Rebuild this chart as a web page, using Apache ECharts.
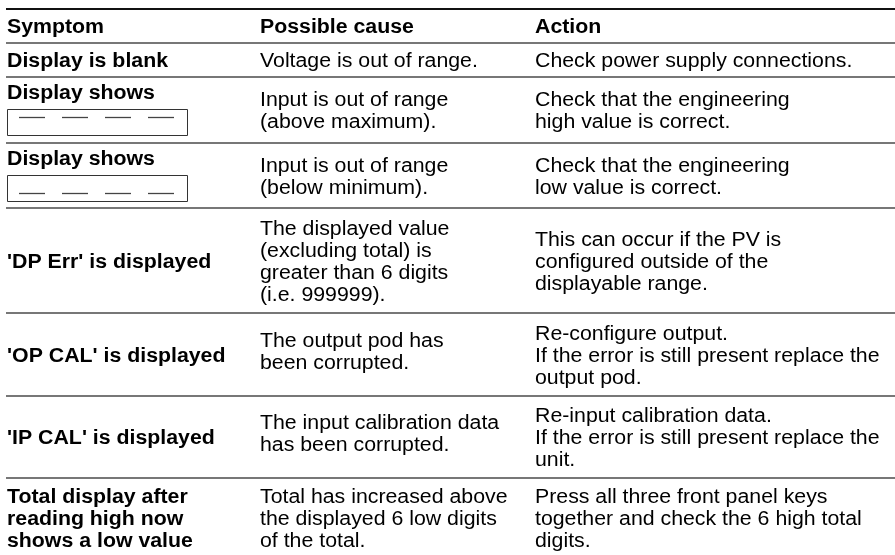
<!DOCTYPE html>
<html><head><meta charset="utf-8">
<script src="https://cdn.jsdelivr.net/npm/echarts@6/dist/echarts.min.js"></script>
<style>html,body{margin:0;padding:0;background:#fff}#c{width:895px;height:555px}</style>
</head><body><div id="c"></div>
<script>
// ---- data ----
const headers = ['Symptom', 'Possible cause', 'Action'];
const symptoms = [
  'Display is blank',
  'Display shows',
  'Display shows',
  "'DP Err' is displayed",
  "'OP CAL' is displayed",
  "'IP CAL' is displayed",
  'Total display after\nreading high now\nshows a low value'
];
const displayIndicators = ['', 'over', 'under', '', '', '', ''];
const causes = [
  'Voltage is out of range.',
  'Input is out of range\n(above maximum).',
  'Input is out of range\n(below minimum).',
  'The displayed value\n(excluding total) is\ngreater than 6 digits\n(i.e. 999999).',
  'The output pod has\nbeen corrupted.',
  'The input calibration data\nhas been corrupted.',
  'Total has increased above\nthe displayed 6 low digits\nof the total.'
];
const actions = [
  'Check power supply connections.',
  'Check that the engineering\nhigh value is correct.',
  'Check that the engineering\nlow value is correct.',
  'This can occur if the PV is\nconfigured outside of the\ndisplayable range.',
  'Re-configure output.\nIf the error is still present replace the\noutput pod.',
  'Re-input calibration data.\nIf the error is still present replace the\nunit.',
  'Press all three front panel keys\ntogether and check the 6 high total\ndigits.'
];

// ---- layout ----
const W = 895, H = 555;
const colX = [7, 260, 535];
const rowEdges = [9, 43, 77, 143, 208, 313, 396, 478, 558];
const causeShift = [0, 0, 0, 0, 0, -4, -4, 0, 0]; // per table row (0 = header)
const LINE_H = 22;
const TEXT_DY = 1.5;
const FONT_SIZE = 20;
const SX = 1.065;
const FAMILY = 'Liberation Sans';

// cells: [col, row, text, bold, indicator]
const cells = [];
headers.forEach((h, c) => cells.push([c, 0, h, 1, '']));
symptoms.forEach((s, r) => {
  cells.push([0, r + 1, s, 1, displayIndicators[r]]);
  cells.push([1, r + 1, causes[r], 0, '']);
  cells.push([2, r + 1, actions[r], 0, '']);
});
const lineIdx = rowEdges.slice(0, rowEdges.length - 1).map((_, i) => [i]);

function textEl(x, y, str, bold) {
  return {
    type: 'text', x: x, y: y, scaleX: SX, scaleY: 1, originX: 0, originY: 0,
    style: {
      text: str, x: 0, y: 0,
      fontFamily: FAMILY, fontSize: FONT_SIZE, fontWeight: bold ? 'bold' : 'normal',
      fill: '#000', align: 'left', verticalAlign: 'middle'
    }
  };
}

const chart = echarts.init(document.getElementById('c'), null, {renderer: 'canvas'});
chart.setOption({
  animation: false,
  backgroundColor: '#fff',
  grid: {left: 0, right: 0, top: 0, bottom: 0},
  xAxis: {type: 'value', min: 0, max: W, show: false},
  yAxis: {type: 'value', min: 0, max: H, inverse: true, show: false},
  series: [
    {
      type: 'custom',
      data: lineIdx,
      renderItem: function (params, api) {
        const i = api.value(0);
        const y = rowEdges[i];
        const p0 = api.coord([6, y]);
        const p1 = api.coord([W, y]);
        return {
          type: 'line',
          shape: {x1: p0[0], y1: p0[1], x2: p1[0], y2: p1[1]},
          style: {stroke: i === 0 ? '#111' : '#4a4a4a', lineWidth: i === 0 ? 2 : 1.6}
        };
      }
    },
    {
      type: 'custom',
      data: cells,
      renderItem: function (params, api) {
        const item = cells[params.dataIndex];
        const col = item[0], row = item[1], txt = item[2], bold = item[3], ind = item[4];
        const top = rowEdges[row], bottom = rowEdges[row + 1];
        const children = [];
        if (ind) {
          const tp = api.coord([colX[col], top + 15 + TEXT_DY]);
          children.push(textEl(tp[0], tp[1], txt, bold));
          const b0 = api.coord([7, top + 32]);
          const b1 = api.coord([187, top + 58]);
          children.push({type: 'rect', shape: {x: b0[0] + 0.5, y: b0[1] + 0.5, width: b1[0] - b0[0], height: b1[1] - b0[1]},
            style: {fill: 'none', stroke: '#333', lineWidth: 1}});
          const dy = ind === 'over' ? top + 40 : top + 50;
          for (let k = 0; k < 4; k++) {
            const a = api.coord([19 + 43 * k, dy]);
            const b = api.coord([45 + 43 * k, dy]);
            children.push({type: 'line', shape: {x1: a[0], y1: a[1] + 0.5, x2: b[0], y2: b[1] + 0.5},
              style: {stroke: '#444', lineWidth: 1.3}});
          }
        } else {
          const lines = txt.split('\n');
          const shift = col === 1 ? causeShift[row] : 0;
          const cy = (top + bottom) / 2 - (lines.length - 1) * LINE_H / 2 + TEXT_DY + shift;
          lines.forEach((ln, k) => {
            const p = api.coord([colX[col], cy + k * LINE_H]);
            children.push(textEl(p[0], p[1], ln, bold));
          });
        }
        return {type: 'group', children: children};
      }
    }
  ]
});
</script></body></html>
